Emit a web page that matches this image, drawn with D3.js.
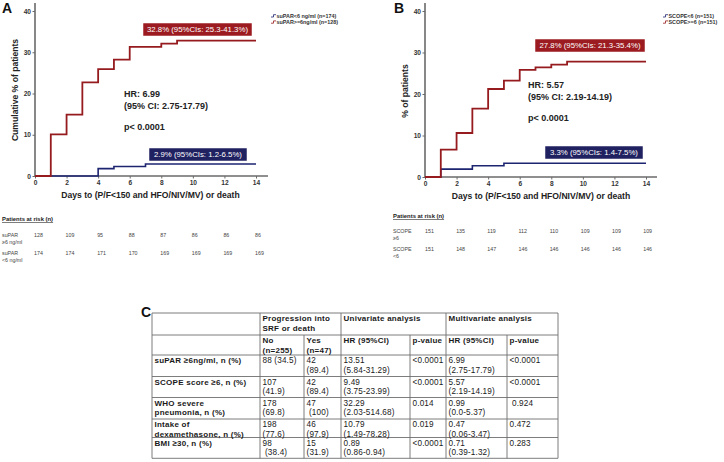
<!DOCTYPE html>
<html><head><meta charset="utf-8">
<script src="https://cdn.jsdelivr.net/npm/d3@7"></script>
<style>
body{margin:0;background:#fff;}
svg{display:block;font-family:"Liberation Sans",Arial,Helvetica,sans-serif;}
</style></head>
<body><svg id="c" width="724" height="462"></svg>
<script>
// ---------- DATA ----------
const suparHighDays = [0,1,2,3,4,5,6,8,9,14];
const suparHighPct  = [0,10.1,14.9,22.7,25.9,28.2,31.3,32.1,32.8,32.8];
const suparLowDays  = [0,4,5,7,14];
const suparLowPct   = [0,1.8,2.3,2.9,2.9];
const scopeHighDays = [0,1,2,3,4,5,6,7,8,9,14];
const scopeHighPct  = [0,6.6,10.6,16.5,21.2,23.2,25.8,26.4,27.1,27.8,27.8];
const scopeLowDays  = [0,1,3,5,14];
const scopeLowPct   = [0,1.9,2.7,3.3,3.3];

const yTicks = [0,10,20,30,40];
const xTicks = [0,2,4,6,8,10,12,14];
const riskDays = [0,2,4,6,8,10,12,14];
const suparHighRisk = [128,109,95,88,87,86,86,86];
const suparLowRisk  = [174,174,171,170,169,169,169,169];
const scopeHighRisk = [151,135,119,112,110,109,109,109];
const scopeLowRisk  = [151,148,147,146,146,146,146,146];

const xTitle = "Days to (P/F<150 and HFO/NIV/MV) or death";
const legendA = ["suPAR<6 ng/ml (n=174)","suPAR>=6ng/ml (n=128)"];
const legendB = ["SCOPE<6 (n=151)","SCOPE>=6 (n=151)"];
const hrA = ["HR: 6.99","(95% CI: 2.75-17.79)","p< 0.0001"];
const hrB = ["HR: 5.57","(95% CI: 2.19-14.19)","p< 0.0001"];
const boxA = ["32.8% (95%CIs: 25.3-41.3%)","2.9% (95%CIs: 1.2-6.5%)"];
const boxB = ["27.8% (95%CIs: 21.3-35.4%)","3.3% (95%CIs: 1.4-7.5%)"];
const riskLabelsA = [["suPAR","≥6 ng/ml"],["suPAR","<6 ng/ml"]];
const riskLabelsB = [["SCOPE","≥6"],["SCOPE","<6"]];

const tableHead1 = ["", "Progression into|SRF or death", "Univariate analysis", "Multivariate analysis"];
const tableHead2 = ["", "No|(n=255)", "Yes|(n=47)", "HR (95%CI)", "p-value", "HR (95%CI)", "p-value"];
const tableRows = [
  ["suPAR ≥6ng/ml, n (%)", "88 (34.5)", "42|(89.4)", "13.51|(5.84-31.29)", "<0.0001", "6.99|(2.75-17.79)", "<0.0001"],
  ["SCOPE score ≥6, n (%)", "107|(41.9)", "42|(89.4)", "9.49|(3.75-23.99)", "<0.0001", "5.57|(2.19-14.19)", "<0.0001"],
  ["WHO severe|pneumonia, n (%)", "178|(69.8)", "47|\u00a0(100)", "32.29|(2.03-514.68)", "0.014", "0.99|(0.0-5.37)", "\u00a00.924"],
  ["Intake of|dexamethasone, n (%)", "198|(77.6)", "46|(97.9)", "10.79|(1.49-78.28)", "0.019", "0.47|(0.06-3.47)", "0.472"],
  ["BMI ≥30, n (%)", "98|\u00a0(38.4)", "15|(31.9)", "0.89|(0.86-0.94)", "<0.0001", "0.71|(0.39-1.32)", "0.283"]
];

// ---------- DRAW ----------
const svg = d3.select("#c");
svg.append("rect").attr("width",724).attr("height",462).attr("fill","#fff");
const RED = "#951b1f", BLUE = "#1d2470";

function panel(cfg){
  const g = svg.append("g");
  const x = d3.scaleLinear().domain([0,14]).range([cfg.x0, cfg.x14]);
  const y = d3.scaleLinear().domain([0,40]).range([cfg.y0, cfg.y40]);

  // axes
  const ya = g.append("g").attr("transform",`translate(${cfg.x0},0)`)
    .call(d3.axisLeft(y).tickValues(yTicks).tickSize(2.5).tickSizeOuter(0).tickPadding(1.5));
  ya.select(".domain").attr("d",`M0,${cfg.y0}V${cfg.yTop}`);
  const xa = g.append("g").attr("transform",`translate(0,${cfg.y0})`)
    .call(d3.axisBottom(x).tickValues(xTicks).tickSize(2.5).tickSizeOuter(0).tickPadding(1.5));
  xa.select(".domain").attr("d",`M${cfg.x0},0H${cfg.xEnd}`);
  [ya,xa].forEach(a=>{
    a.selectAll(".domain").attr("stroke","#6a6a6a").attr("stroke-width",1.6);
    a.selectAll(".tick line").attr("stroke","#6a6a6a").attr("stroke-width",1);
    a.selectAll("text").attr("font-size",6.6).attr("font-weight","bold").attr("fill","#333")
      .attr("font-family","inherit");
  });

  // titles
  g.append("text").attr("x",(cfg.x0+cfg.xEnd)/2 + cfg.xtDx).attr("y",cfg.y0+22)
    .attr("text-anchor","middle").attr("font-size",8.6).attr("font-weight","bold").attr("fill","#222")
    .text(xTitle);
  g.append("text").attr("transform",`translate(${cfg.ytX},${cfg.ytY}) rotate(-90)`)
    .attr("text-anchor","middle").attr("font-size",8.6).attr("font-weight","bold").attr("fill","#222")
    .text(cfg.yTitle);
  g.append("text").attr("x",cfg.letterX).attr("y",13).attr("font-size",14).attr("font-weight","bold")
    .attr("fill","#111").text(cfg.letter);

  // curves
  const line = d3.line().x(d=>x(d[0])).y(d=>y(d[1])).curve(d3.curveStepAfter);
  g.append("path").datum(d3.zip(cfg.lowDays,cfg.lowPct)).attr("d",line)
    .attr("fill","none").attr("stroke",BLUE).attr("stroke-width",1.6);
  g.append("path").datum(d3.zip(cfg.highDays,cfg.highPct)).attr("d",line)
    .attr("fill","none").attr("stroke",RED).attr("stroke-width",1.8);

  // legend
  const cols=[BLUE,RED];
  cfg.legend.forEach((t,i)=>{
    const ly = cfg.legY + i*6.2, lx = cfg.legX;
    g.append("path").attr("d",`M${lx},${ly+1}H${lx+2.5}V${ly-1.3}H${lx+5}`)
      .attr("fill","none").attr("stroke",cols[i]).attr("stroke-width",0.8);
    g.append("text").attr("x",lx+5.5).attr("y",ly+2).attr("font-size",5.4).attr("font-weight","bold")
      .attr("fill","#333").text(t);
  });

  // annotation boxes
  cfg.boxes.forEach((b,i)=>{
    g.append("rect").attr("x",b.x).attr("y",b.y).attr("width",b.w).attr("height",13)
      .attr("fill",i===0?"#9b1b20":"#1f2160").attr("stroke","#fff").attr("stroke-width",0.5);
    g.append("text").attr("x",b.x+b.w/2).attr("y",b.y+9.4).attr("text-anchor","middle")
      .attr("font-size",7.8).attr("fill","#fff").text(b.t);
  });

  // HR text
  cfg.hr.forEach((t,i)=>{
    g.append("text").attr("x",cfg.hrX).attr("y",cfg.hrY + [0,12,33][i])
      .attr("font-size",9).attr("font-weight","bold").attr("fill","#222").text(t);
  });

  // risk table
  g.append("text").attr("x",cfg.riskX).attr("y",cfg.riskY).attr("font-size",5.9).attr("font-weight","bold")
    .attr("fill","#222").attr("text-decoration","underline").text("Patients at risk (n)");
  [cfg.highRisk, cfg.lowRisk].forEach((vals,r)=>{
    const by = cfg.riskY + cfg.riskRowDy[r];
    cfg.riskLabels[r].forEach((t,k)=>{
      g.append("text").attr("x",cfg.riskX).attr("y",by + k*7.3).attr("font-size",5.3)
        .attr("fill","#444").text(t);
    });
    vals.forEach((v,i)=>{
      g.append("text").attr("x",x(riskDays[i]) + cfg.riskDx - i*cfg.riskShrink).attr("y",by)
        .attr("font-size",5.3).attr("fill","#444").text(v);
    });
  });
}

panel({letter:"A", letterX:2, x0:35, x14:256, xEnd:268, y0:176, y40:11, yTop:3,
  xtDx:-1, ytX:18, ytY:90, yTitle:"Cumulative % of patients",
  highDays:suparHighDays, highPct:suparHighPct, lowDays:suparLowDays, lowPct:suparLowPct,
  legend:legendA, legX:271, legY:16,
  boxes:[{x:143,y:23,w:109,t:boxA[0]},{x:149,y:148,w:98,t:boxA[1]}],
  hr:hrA, hrX:124, hrY:97,
  riskX:2, riskY:221, riskRowDy:[16,34], riskLabels:riskLabelsA,
  highRisk:suparHighRisk, lowRisk:suparLowRisk, riskDx:-1, riskShrink:0});

panel({letter:"B", letterX:394, x0:425, x14:646, xEnd:657, y0:177, y40:11, yTop:3,
  xtDx:0, ytX:408, ytY:91, yTitle:"% of patients",
  highDays:scopeHighDays, highPct:scopeHighPct, lowDays:scopeLowDays, lowPct:scopeLowPct,
  legend:legendB, legX:663, legY:16,
  boxes:[{x:535,y:39,w:110,t:boxB[0]},{x:545,y:146,w:98,t:boxB[1]}],
  hr:hrB, hrX:528, hrY:88,
  riskX:393, riskY:218, riskRowDy:[15,33], riskLabels:riskLabelsB,
  highRisk:scopeHighRisk, lowRisk:scopeLowRisk, riskDx:0, riskShrink:0.4});

// ---------- TABLE C ----------
const tg = svg.append("g");
const colX = [152,260,304,341,410,446,507,558];
const rowY = [313,335,355,376.5,397.5,419,437.5,458.3];
tg.append("text").attr("x",141).attr("y",317).attr("font-size",14).attr("font-weight","bold").attr("fill","#111").text("C");
// grid
rowY.forEach(yv=>tg.append("line").attr("x1",colX[0]).attr("x2",colX[7]).attr("y1",yv).attr("y2",yv));
colX.forEach((xv,i)=>{
  const sub = (i===2||i===4||i===6);
  tg.append("line").attr("x1",xv).attr("x2",xv).attr("y1",sub?rowY[1]:rowY[0]).attr("y2",rowY[7]);
});
tg.selectAll("line").attr("stroke","#6e6e6e").attr("stroke-width",0.9);

function cell(txt,cx,top,bold){
  txt.split("|").forEach((t,k)=>{
    tg.append("text").attr("x",cx+2.5).attr("y",top+8.2+k*9.6)
      .attr("font-size",bold?8:8.2).attr("font-weight",bold?"bold":"normal")
      .attr("fill","#1a1a1a").attr("letter-spacing",bold?0.25:0.15).text(t);
  });
}
const head1Cols=[0,1,3,5];
tableHead1.forEach((t,i)=>{ if(t) cell(t,colX[head1Cols[i]],rowY[0],true); });
tableHead2.forEach((t,i)=>{ if(t) cell(t,colX[i],rowY[1],true); });
tableRows.forEach((row,r)=>{
  row.forEach((t,i)=>cell(t,colX[i],rowY[r+2],i===0));
});
</script></body></html>
